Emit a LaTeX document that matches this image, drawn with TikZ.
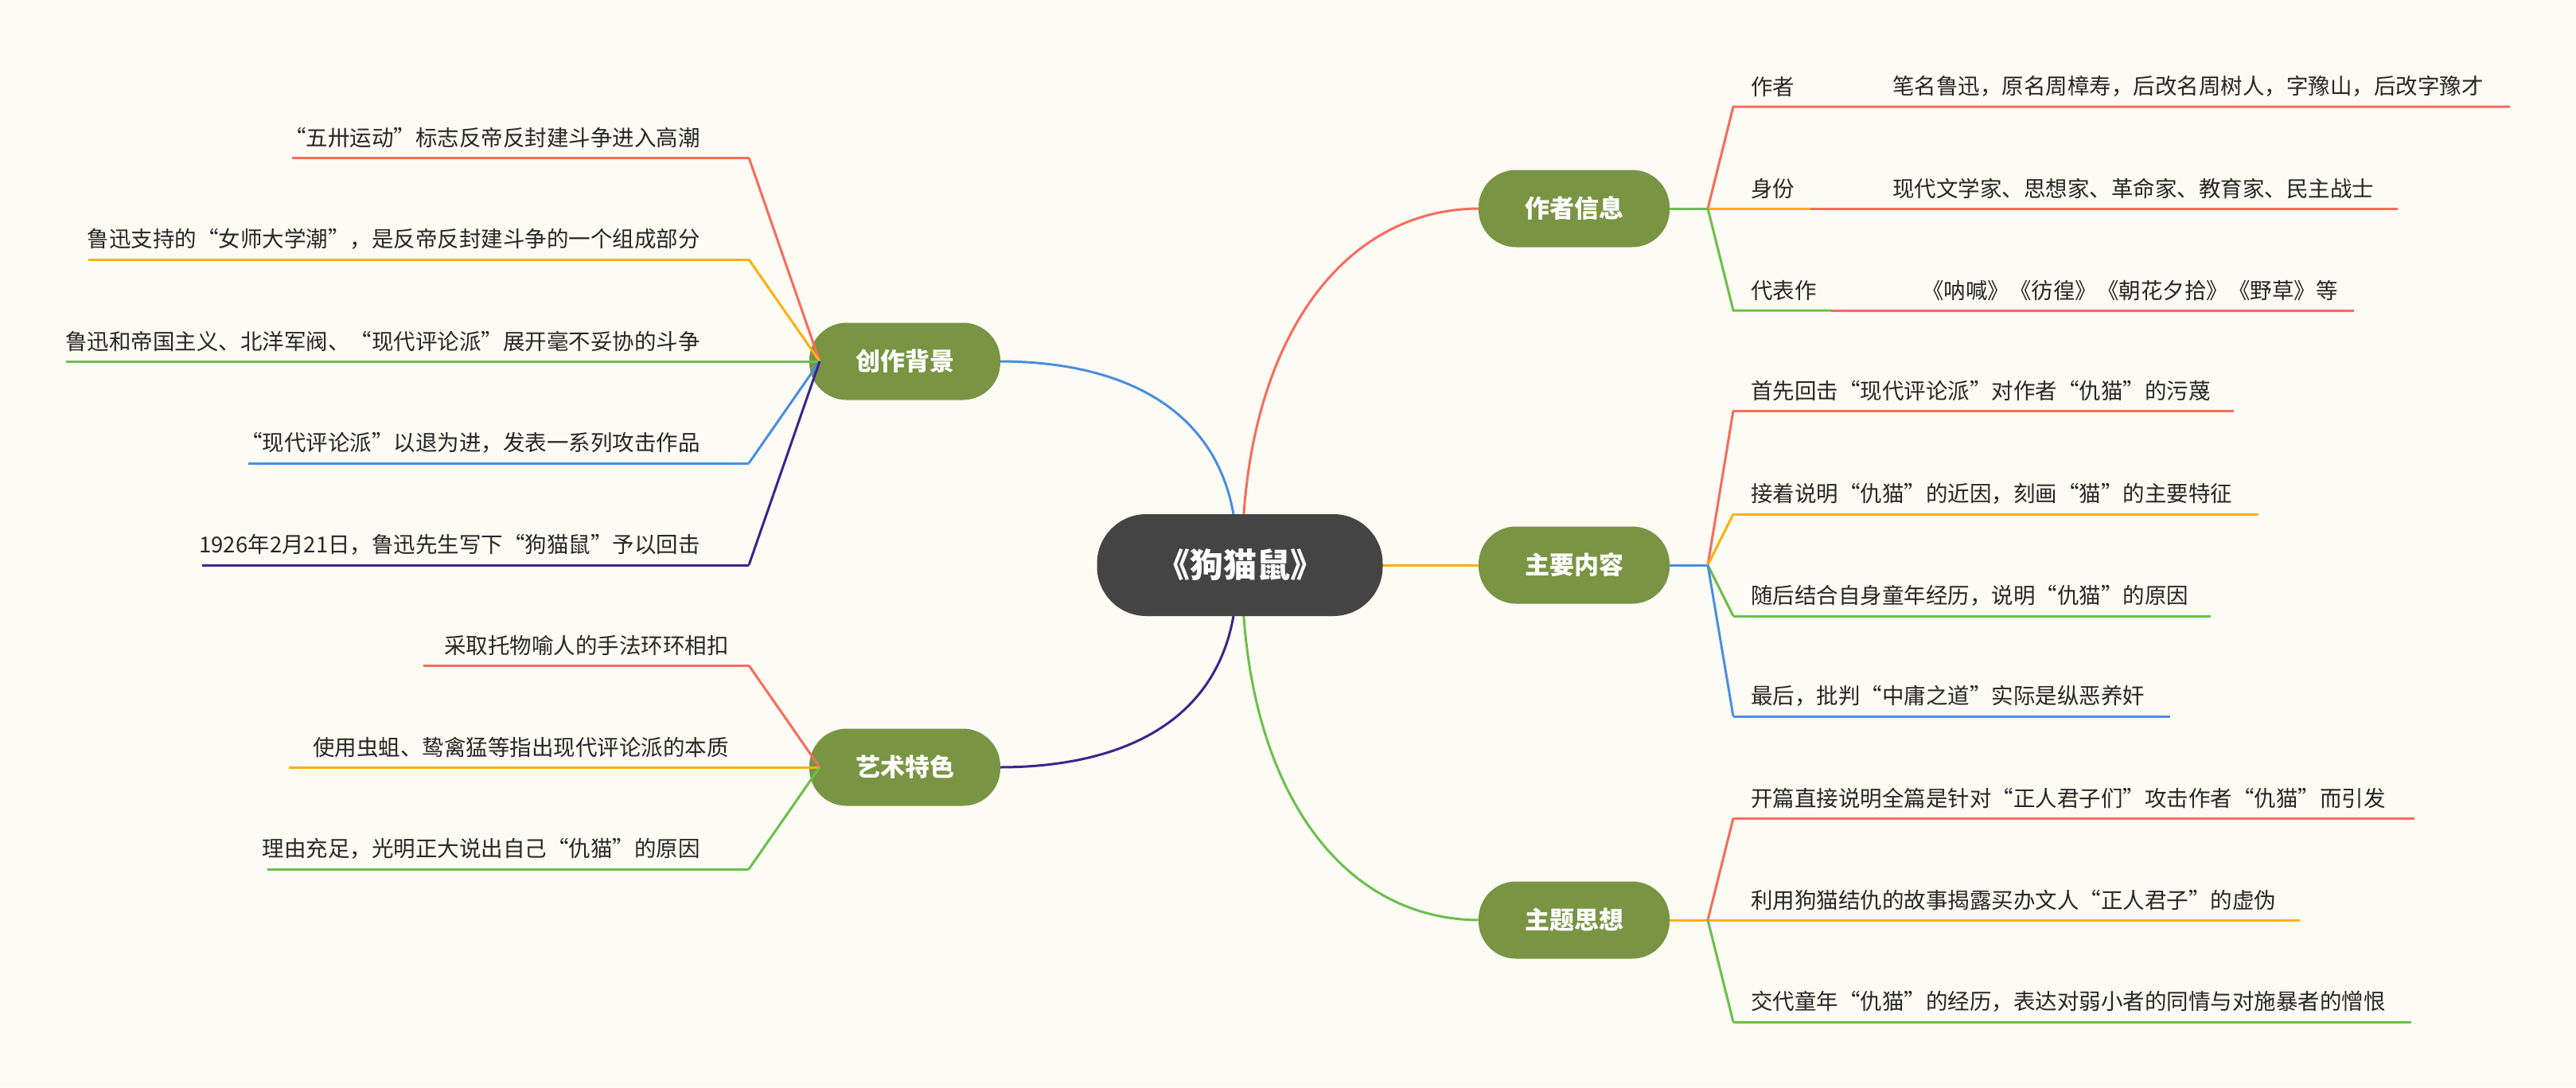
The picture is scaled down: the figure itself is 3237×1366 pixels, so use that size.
\documentclass[tikz,border=0pt]{standalone}
\usepackage{fontspec}
\setmainfont{Noto Sans CJK SC}
\definecolor{bg}{HTML}{FCFBF4}
\definecolor{cr}{HTML}{F86B5C}
\definecolor{cy}{HTML}{FDB010}
\definecolor{cg}{HTML}{6CBF4C}
\definecolor{cb}{HTML}{4A8EDF}
\definecolor{ci}{HTML}{36288A}
\definecolor{ng}{HTML}{799443}
\definecolor{nc}{HTML}{444444}
\tikzset{
 br/.style={fill=ng,text=white,rounded corners=47pt,minimum width=240pt,minimum height=97pt,font=\fontsize{31}{31}\selectfont\bfseries,inner sep=0pt},
 ctr/.style={fill=nc,text=white,rounded corners=62pt,minimum width=359pt,minimum height=128pt,font=\fontsize{42}{42}\selectfont\bfseries,inner sep=0pt},
 lt/.style={font=\fontsize{27.5}{28}\selectfont,text=black!85,inner sep=0pt},
 ln/.style={line width=3pt},
}
\newcommand{\rleaf}[5]{% color, y, xend, text, name
 \coordinate (#5s) at (2178,#2); \coordinate (#5e) at (#3,#2);
 \node[lt,anchor=south west] (#5) at (2200,#2-12) {#4};
 \draw[ln,#1] (#5s) -- (#5e);}
\newcommand{\lleaf}[6]{% color, y, xstart, text, name, xtext
 \coordinate (#5s) at (941,#2); \coordinate (#5e) at (#3,#2);
 \node[lt,anchor=south east] (#5) at (#6,#2-12) {#4};
 \draw[ln,#1] (#5s) -- (#5e);}
\begin{document}
\begin{tikzpicture}[x=1pt,y=-1pt]
\fill[bg] (0,0) rectangle (3237,1366);
\useasboundingbox (0,0) rectangle (3237,1366);
% main curves
\draw[ln,cr] (1562,660) .. controls (1575,420) and (1690,262) .. (1860,262);
\draw[ln,cb] (1552,660) .. controls (1535,520) and (1420,454) .. (1255,454);
\draw[ln,cy] (1730,710) -- (1860,710);
\draw[ln,cg] (1562,760) .. controls (1575,1000) and (1690,1156) .. (1860,1156);
\draw[ln,ci] (1552,760) .. controls (1535,900) and (1420,964) .. (1255,964);
\node[ctr] (c) at (1558,710) {《狗猫鼠》};
\node[br] (a) at (1978,262) {作者信息};
\node[br] (b) at (1978,710) {主要内容};
\node[br] (d) at (1978,1156) {主题思想};
\node[br] (e) at (1137,454) {创作背景};
\node[br] (f) at (1137,964) {艺术特色};
% author info
\coordinate (aj) at (2146,262);
\draw[ln,cg] (a.east) -- (aj);
\draw[ln,cr] (aj) -- (2178,134) -- (3154,134);
\draw[ln,cy] (aj) -- (2275,262); \draw[ln,cr] (2275,262) -- (3013,262);
\draw[ln,cg] (aj) -- (2178,390) -- (2301,390); \draw[ln,cr] (2301,390) -- (2958,390);
\node[lt,anchor=south west] (a1) at (2200,122) {作者};
\node[lt,anchor=south west] (a1v) at (2378,122) {笔名鲁迅，原名周樟寿，后改名周树人，字豫山，后改字豫才};
\node[lt,anchor=south west] (a2) at (2200,250) {身份};
\node[lt,anchor=south west] (a2v) at (2378,250) {现代文学家、思想家、革命家、教育家、民主战士};
\node[lt,anchor=south west] (a3) at (2200,378) {代表作};
\node[lt,anchor=south west] (a3v) at (2415,378) {《呐喊》《彷徨》《朝花夕拾》《野草》等};
% main content
\coordinate (bj) at (2146,710);
\draw[ln,cb] (b.east) -- (bj);
\rleaf{cr}{516}{2807}{首先回击“现代评论派”对作者“仇猫”的污蔑}{b1}
\rleaf{cy}{646}{2838}{接着说明“仇猫”的近因，刻画“猫”的主要特征}{b2}
\rleaf{cg}{774}{2778}{随后结合自身童年经历，说明“仇猫”的原因}{b3}
\rleaf{cb}{900}{2727}{最后，批判“中庸之道”实际是纵恶养奸}{b4}
\draw[ln,cr] (bj) -- (b1s); \draw[ln,cy] (bj) -- (b2s);
\draw[ln,cg] (bj) -- (b3s); \draw[ln,cb] (bj) -- (b4s);
% theme
\coordinate (dj) at (2146,1156);
\draw[ln,cy] (d.east) -- (dj);
\rleaf{cr}{1028}{3034}{开篇直接说明全篇是针对“正人君子们”攻击作者“仇猫”而引发}{d1}
\rleaf{cy}{1156}{2890}{利用狗猫结仇的故事揭露买办文人“正人君子”的虚伪}{d2}
\rleaf{cg}{1284}{3030}{交代童年“仇猫”的经历，表达对弱小者的同情与对施暴者的憎恨}{d3}
\draw[ln,cr] (dj) -- (d1s); \draw[ln,cy] (dj) -- (d2s); \draw[ln,cg] (dj) -- (d3s);
% background
\coordinate (ej) at (1030,454);
\lleaf{cr}{198}{367}{“五卅运动”标志反帝反封建斗争进入高潮}{e1}{880}
\lleaf{cy}{326}{111}{鲁迅支持的“女师大学潮”，是反帝反封建斗争的一个组成部分}{e2}{880}
\lleaf{cg}{454}{83}{鲁迅和帝国主义、北洋军阀、“现代评论派”展开毫不妥协的斗争}{e3}{880}
\lleaf{cb}{582}{312}{“现代评论派”以退为进，发表一系列攻击作品}{e4}{880}
\lleaf{ci}{710}{254}{1926年2月21日，鲁迅先生写下“狗猫鼠”予以回击}{e5}{880}
\draw[ln,cr] (ej) -- (e1s); \draw[ln,cy] (ej) -- (e2s); \draw[ln,cg] (ej) -- (e3s);
\draw[ln,cb] (ej) -- (e4s); \draw[ln,ci] (ej) -- (e5s);
% art
\coordinate (fj) at (1030,964);
\lleaf{cr}{836}{532}{采取托物喻人的手法环环相扣}{f1}{916}
\lleaf{cy}{964}{363}{使用虫蛆、鸷禽猛等指出现代评论派的本质}{f2}{916}
\lleaf{cg}{1092}{336}{理由充足，光明正大说出自己“仇猫”的原因}{f3}{880}
\draw[ln,cr] (fj) -- (f1s); \draw[ln,cy] (fj) -- (f2s); \draw[ln,cg] (fj) -- (f3s);
\end{tikzpicture}
\end{document}
